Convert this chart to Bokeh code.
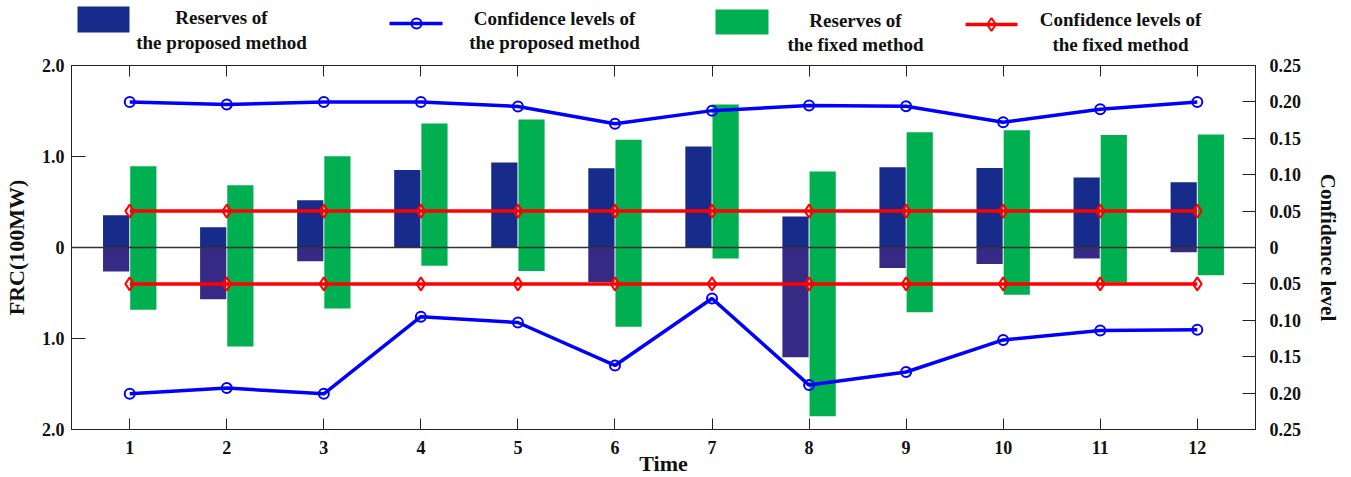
from bokeh.plotting import figure
from bokeh.models import (ColumnDataSource, Range1d, LinearAxis, FixedTicker,
                          CustomJSTickFormatter, Span)
from bokeh.transform import dodge
from bokeh.layouts import column
from bokeh.core.properties import value
from bokeh.embed import file_html
from bokeh.resources import INLINE

# ---------------- data ----------------
time = [1, 2, 3, 4, 5, 6, 7, 8, 9, 10, 11, 12]
prop_up = [0.355, 0.223, 0.52, 0.853, 0.934, 0.871, 1.11, 0.341, 0.882, 0.875, 0.769, 0.718]
prop_down = [-0.264, -0.568, -0.15, 0.0, 0.0, -0.38, 0.0, -1.205, -0.224, -0.18, -0.121, -0.052]
fixed_up = [0.893, 0.685, 1.003, 1.363, 1.407, 1.183, 1.571, 0.835, 1.267, 1.289, 1.237, 1.242]
fixed_down = [-0.685, -1.088, -0.67, -0.20, -0.257, -0.872, -0.121, -1.854, -0.711, -0.52, -0.385, -0.304]
conf_prop_up = [0.200, 0.1965, 0.200, 0.200, 0.1937, 0.170, 0.188, 0.195, 0.194, 0.172, 0.190, 0.200]
conf_prop_down = [-0.201, -0.193, -0.201, -0.095, -0.103, -0.162, -0.070, -0.189, -0.171, -0.127, -0.114, -0.113]
conf_fixed_up = [0.05, 0.05, 0.05, 0.05, 0.05, 0.05, 0.05, 0.05, 0.05, 0.05, 0.05, 0.05]
conf_fixed_down = [-0.05, -0.05, -0.05, -0.05, -0.05, -0.05, -0.05, -0.05, -0.05, -0.05, -0.05, -0.05]

left_ticks = [-2, -1, 0, 1, 2]
right_ticks = [-0.25, -0.2, -0.15, -0.1, -0.05, 0, 0.05, 0.1, 0.15, 0.2, 0.25]

legend_labels = [["Reserves of", "the proposed method"],
                 ["Confidence levels of", "the proposed method"],
                 ["Reserves of", "the fixed method"],
                 ["Confidence levels of", "the fixed method"]]

NAVY = "#162B8A"
PURPLE = "#372A85"
GREEN = "#00B050"
BLUE = "#0000FF"
RED = "#FF0000"
FONT = "Liberation Serif"
TXT = "#111111"

FW, FH = 1184, 364          # frame size
BL, BR = 64, 87             # left / right borders

src = ColumnDataSource(dict(t=time, pu=prop_up, pd=prop_down, fu=fixed_up, fd=fixed_down,
                            zero=[0.0] * len(time),
                            cpu=conf_prop_up, cpd=conf_prop_down,
                            cfu=conf_fixed_up, cfd=conf_fixed_down))

# ---------------- main figure ----------------
p = figure(frame_width=FW, frame_height=FH, output_backend="svg", toolbar_location=None,
           x_range=Range1d(0.4, 12.6), y_range=Range1d(-2, 2),
           min_border_left=BL, min_border_right=BR, min_border_top=8, min_border_bottom=40,
           background_fill_color="white", border_fill_color=None)
p.extra_y_ranges = {"conf": Range1d(-0.25, 0.25)}
p.xgrid.visible = False
p.ygrid.visible = False
p.outline_line_color = "#222222"
p.outline_line_width = 1

# bars
p.vbar(x=dodge("t", -0.14, range=p.x_range), width=0.27, bottom="zero", top="pu",
       source=src, fill_color=NAVY, line_color=None)
p.vbar(x=dodge("t", -0.14, range=p.x_range), width=0.27, bottom="pd", top="zero",
       source=src, fill_color=PURPLE, line_color=None)
p.vbar(x=dodge("t", 0.14, range=p.x_range), width=0.27, bottom="fd", top="fu",
       source=src, fill_color=GREEN, line_color=None)

p.add_layout(Span(location=0, dimension="width", line_color="#333333", line_width=1.3))

# confidence lines
for col in ["cpu", "cpd"]:
    p.line("t", col, source=src, y_range_name="conf", line_color=BLUE, line_width=3.5)
    p.scatter("t", col, source=src, y_range_name="conf", marker="circle", size=10,
              fill_color=None, line_color=BLUE, line_width=2)
for col in ["cfu", "cfd"]:
    p.line("t", col, source=src, y_range_name="conf", line_color=RED, line_width=3.5)
    p.scatter("t", col, source=src, y_range_name="conf", marker="diamond", size=13,
              fill_color=None, line_color=RED, line_width=2)

def style_axis(ax):
    ax.axis_line_color = "#222222"
    ax.major_tick_line_color = "#222222"
    ax.major_tick_out = 0
    ax.minor_tick_line_color = None
    ax.major_label_text_font = FONT
    ax.major_label_text_font_style = "bold"
    ax.major_label_text_font_size = "18px"
    ax.major_label_text_color = TXT
    ax.axis_label_text_font = FONT
    ax.axis_label_text_font_style = "bold"
    ax.axis_label_text_color = TXT

# bottom x axis
xa = p.xaxis[0]
style_axis(xa)
xa.ticker = FixedTicker(ticks=time)
xa.major_tick_in = 11
xa.major_label_standoff = 11
xa.axis_label = "Time"
xa.axis_label_text_font_size = "22px"
xa.axis_label_standoff = -6

# top axis (ticks only)
top = LinearAxis(ticker=FixedTicker(ticks=time))
style_axis(top)
top.major_tick_in = 11
top.major_label_text_font_size = "0px"
top.major_label_standoff = 0
top.formatter = CustomJSTickFormatter(code="return '';")
p.add_layout(top, "above")

# left axis
ya = p.yaxis[0]
style_axis(ya)
ya.ticker = FixedTicker(ticks=left_ticks)
ya.major_tick_in = 14
ya.major_label_standoff = 7
ya.formatter = CustomJSTickFormatter(code="return Math.abs(tick) < 1e-9 ? '0' : Math.abs(tick).toFixed(1);")
ya.axis_label = "FRC(100MW)"
ya.axis_label_text_font_size = "22px"
ya.axis_label_standoff = 10

# right axis
ra = LinearAxis(y_range_name="conf", ticker=FixedTicker(ticks=right_ticks))
style_axis(ra)
ra.major_tick_in = 13
ra.major_label_standoff = 14
ra.formatter = CustomJSTickFormatter(code="return Math.abs(tick) < 1e-9 ? '0' : Math.abs(tick).toFixed(2);")
ra.axis_label = "Confidence level"
ra.axis_label_text_font_size = "21px"
ra.axis_label_standoff = 12
p.add_layout(ra, "right")

# ---------------- legend figure (frame aligned with main frame) ----------------
LH = 57
leg = figure(frame_width=FW, frame_height=LH, output_backend="svg", toolbar_location=None,
             x_range=Range1d(0, FW), y_range=Range1d(LH, 0),
             min_border_left=BL, min_border_right=BR, min_border_top=0, min_border_bottom=0,
             x_axis_location=None, y_axis_location=None,
             outline_line_color=None, background_fill_color="white", border_fill_color="white")
leg.xgrid.visible = False
leg.ygrid.visible = False

# legend coordinates are pixels measured from the frame's left edge / figure top
leg.quad(left=[6], right=[58], top=[6], bottom=[32], fill_color=NAVY, line_color=None)
leg.line([318, 371], [23, 23], line_color=BLUE, line_width=3.5)
leg.scatter([345], [23], marker="circle", size=10, fill_color=None, line_color=BLUE, line_width=2)
leg.quad(left=[644], right=[697], top=[9], bottom=[34], fill_color=GREEN, line_color=None)
leg.line([894, 946], [24, 24], line_color=RED, line_width=3.5)
leg.scatter([920], [24], marker="diamond", size=13, fill_color=None, line_color=RED, line_width=2)

text_x = [150, 483, 784, 1049]
base1 = [17, 18, 20, 19]
base2 = [42, 42, 44, 44]
xs, ys, ts = [], [], []
for i, lab in enumerate(legend_labels):
    xs += [text_x[i], text_x[i]]
    ys += [base1[i], base2[i]]
    ts += [lab[0], lab[1]]
leg.text(x=xs, y=ys, text=ts, text_font=value(FONT), text_font_style="bold",
         text_font_size="19px", text_align="center", text_baseline="alphabetic",
         text_color=TXT)

layout = column(leg, p, spacing=0)
open("out.html", "w").write(file_html(layout, INLINE))
